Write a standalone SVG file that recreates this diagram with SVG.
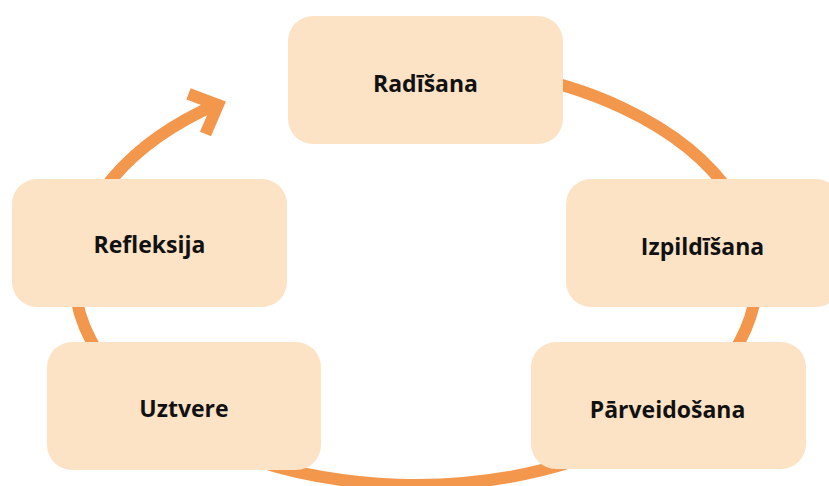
<svg xmlns="http://www.w3.org/2000/svg" width="829" height="486" viewBox="0 0 829 486">
  <style>
    .ring { fill: none; stroke: #F3974C; stroke-width: 12; }
    .head { fill: none; stroke: #F3974C; stroke-width: 12; stroke-linejoin: miter; stroke-miterlimit: 10; }
    .box { fill: #FDE3C5; }
    .label { font-family: "Open Sans", "Liberation Sans", sans-serif; font-weight: 700; font-size: 23px; fill: #111111; text-anchor: middle; }
  </style>
  <rect width="829" height="486" fill="#FFFFFF"/>
  <!-- Cycle ring with arrowhead -->
  <g id="connectors">
    <path class="ring" d="M 300 77.4 A 341.5 210 0 1 1 217.9 103.8"/>
    <polyline class="head" points="188.5,93.8 217.9,105 205.5,134"/>
  </g>
  <g id="node-radisana">
    <rect class="box" x="288" y="16" width="275" height="128" rx="25"/>
    <text class="label" x="425.5" y="92">Radīšana</text>
  </g>
  <g id="node-izpildisana">
    <rect class="box" x="566" y="179" width="275" height="128" rx="25"/>
    <text class="label" x="702.5" y="254.5">Izpildīšana</text>
  </g>
  <g id="node-refleksija">
    <rect class="box" x="12" y="179" width="275" height="128" rx="25"/>
    <text class="label" x="149.5" y="252.5">Refleksija</text>
  </g>
  <g id="node-uztvere">
    <rect class="box" x="47" y="342" width="274" height="128" rx="25"/>
    <text class="label" x="184" y="416.5">Uztvere</text>
  </g>
  <g id="node-parveidosana">
    <rect class="box" x="531" y="342" width="275" height="127" rx="25"/>
    <text class="label" x="667.5" y="417.5">Pārveidošana</text>
  </g>
</svg>
